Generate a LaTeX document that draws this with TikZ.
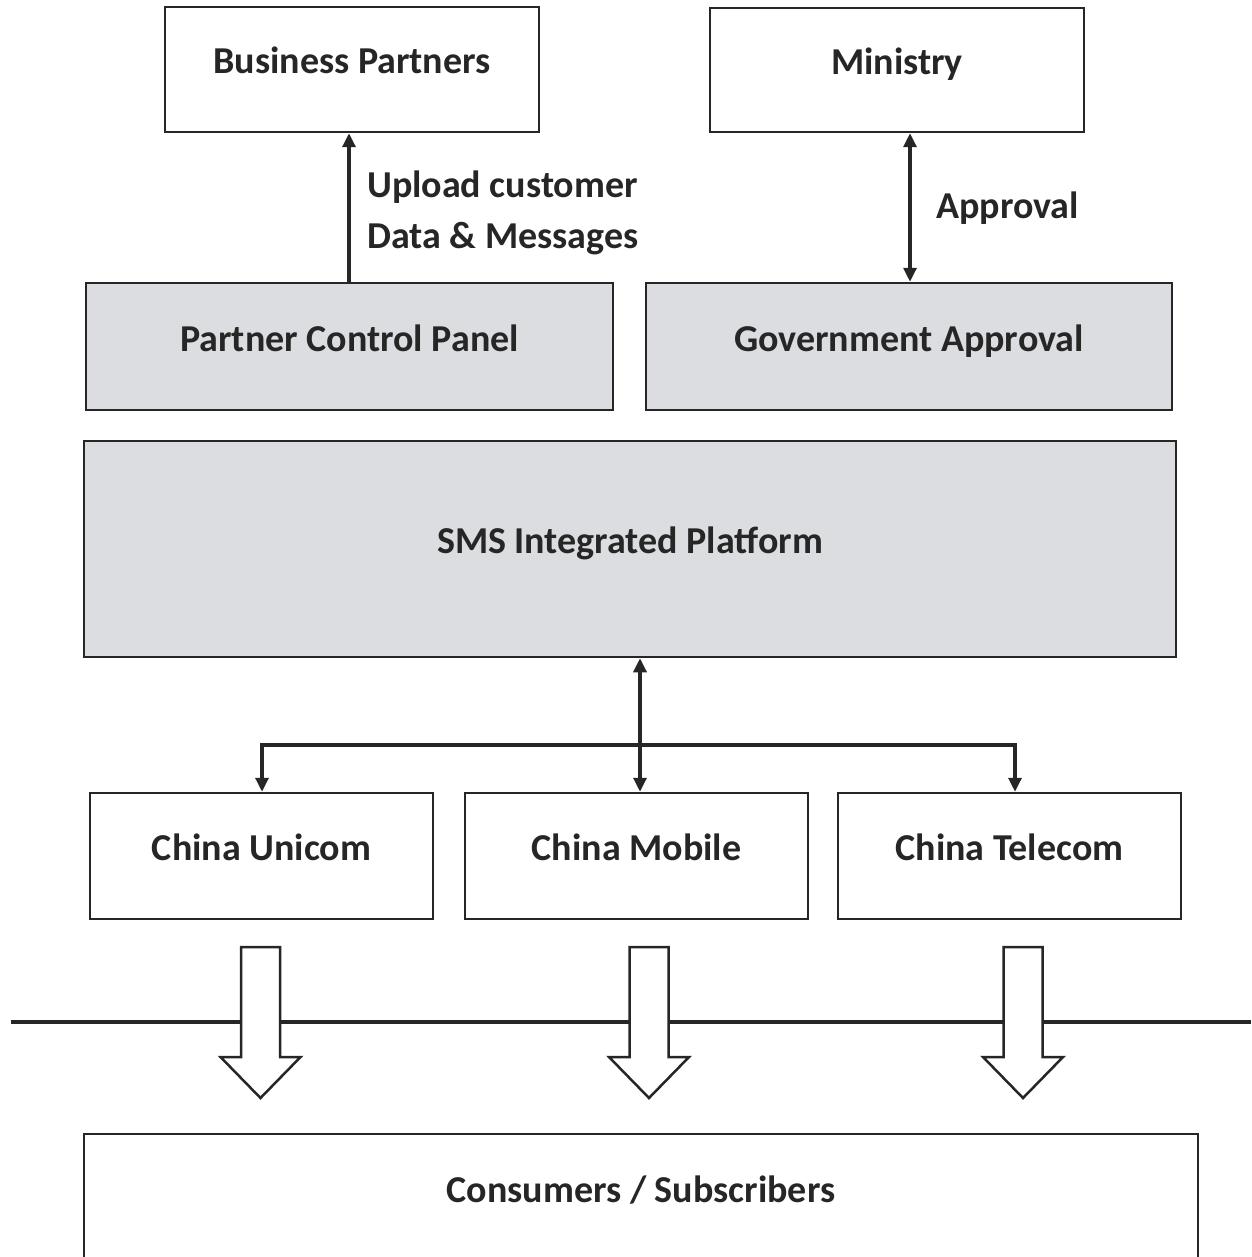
\documentclass[tikz,border=0pt]{standalone}
\usepackage{fontspec}
\setmainfont{Carlito}
\usetikzlibrary{arrows.meta}
\definecolor{boxgray}{HTML}{DCDDE0}
\definecolor{ink}{HTML}{262626}
\tikzset{
  box/.style={draw=ink, line width=2.5pt, inner sep=0pt, text=ink, font=\bfseries\fontsize{38}{46}\selectfont,
    text height=26pt, text depth=17pt},
  graybox/.style={box, fill=boxgray},
  conn/.style={draw=ink, line width=3.3pt, -{Triangle[length=14pt,width=13pt]}},
  dconn/.style={draw=ink, line width=3.3pt, {Triangle[length=14pt,width=13pt]}-{Triangle[length=14pt,width=13pt]}},
  plain/.style={draw=ink, line width=3.3pt},
  hollow/.style={draw=ink, fill=white, line width=2.5pt, line join=miter},
  lbl/.style={font=\bfseries\fontsize{38}{51}\selectfont, text=ink, inner sep=0pt, align=left}
}
\begin{document}
\begin{tikzpicture}[x=1pt,y=-1pt]
\useasboundingbox (0,0) rectangle (1251,1257);
\clip (0,0) rectangle (1251,1257);
% top boxes
\node[box, minimum width=374pt, minimum height=125pt] (bp) at (352,69.5) {Business Partners};
\node[box, minimum width=374pt, minimum height=124pt] (min) at (897,70) {Ministry};
% gray boxes
\node[graybox, minimum width=527pt, minimum height=127pt] (pcp) at (349.5,346.5) {Partner Control Panel};
\node[graybox, minimum width=526pt, minimum height=127pt] (ga) at (909,346.5) {Government Approval};
\node[graybox, minimum width=1092pt, minimum height=216pt] (sms) at (630,549) {SMS Integrated Platform};
% carriers
\node[box, minimum width=343pt, minimum height=126pt] (cu) at (261.5,856) {China Unicom};
\node[box, minimum width=343pt, minimum height=126pt] (cm) at (636.5,856) {China Mobile};
\node[box, minimum width=343pt, minimum height=126pt] (ct) at (1009.5,856) {China Telecom};
% consumers
\node[box, minimum width=1114pt, minimum height=128pt] (cs) at (641,1198) {Consumers / Subscribers};
% connectors
\draw[conn] (pcp.north -| 349,0) -- (bp.south -| 349,0);
\draw[dconn] (min.south -| 910,0) -- (ga.north -| 910,0);
\node[lbl, anchor=west] (up) at (367,213) {Upload customer\\Data \& Messages};
\node[lbl, anchor=west] (ap) at (936,208) {Approval};
\draw[dconn] (sms.south -| 640,0) -- (cm.north -| 640,0);
\coordinate (jl) at (262,745);
\coordinate (jr) at (1015,745);
\draw[plain] (jl) -- (jr);
\draw[conn] ([xshift=-1.6pt]jl) -- (jl) -- (cu.north -| jl);
\draw[conn] ([xshift=1.6pt]jr) -- (jr) -- (ct.north -| jr);
% separator line
\coordinate (sl) at (11,1022);
\coordinate (sr) at (1251,1022);
\draw[plain, line width=3.4pt] (sl) -- (sr);
% hollow arrows
\foreach \cx in {260.5, 649, 1023}{
  \draw[hollow] (\cx-19.5,947) -- (\cx+19.5,947) -- (\cx+19.5,1057) -- (\cx+40,1057)
     -- (\cx,1098) -- (\cx-40,1057) -- (\cx-19.5,1057) -- cycle;
}
\end{tikzpicture}
\end{document}
